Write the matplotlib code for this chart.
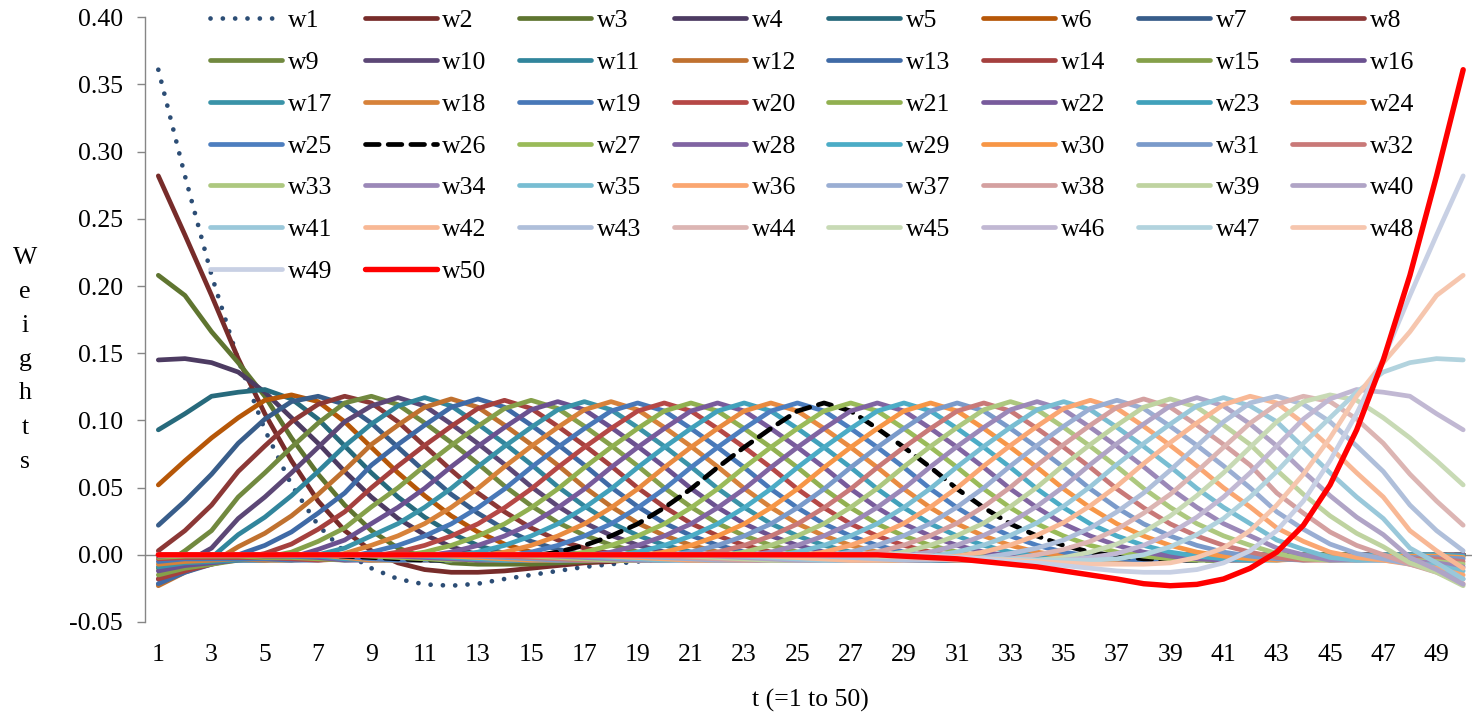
import matplotlib.pyplot as plt
import numpy as np

plt.rcParams['font.family'] = ['Liberation Serif', 'DejaVu Serif']

# значения первых 8 весов по t (дальше нули)
w1 = [0.361, 0.282, 0.208, 0.145, 0.093, 0.052, 0.022, 0.002, -0.010, -0.018, -0.022, -0.023, -0.0215,
      -0.018, -0.015, -0.012, -0.009, -0.007, -0.005, -0.003, -0.002, -0.001]
w2 = [0.282, 0.238, 0.193, 0.146, 0.105, 0.070, 0.040, 0.018, 0.003, -0.006, -0.011, -0.013, -0.013,
      -0.012, -0.010, -0.008, -0.006, -0.005, -0.003, -0.002, -0.001]
w3 = [0.208, 0.193, 0.166, 0.143, 0.118, 0.087, 0.060, 0.037, 0.018, 0.005, -0.002, -0.006, -0.007,
      -0.007, -0.007, -0.006, -0.005, -0.004, -0.003, -0.002, -0.001]
w4 = [0.145, 0.146, 0.143, 0.136, 0.121, 0.102, 0.083, 0.062, 0.043, 0.027, 0.015, 0.006, 0.000,
      -0.003, -0.004, -0.004, -0.004, -0.003, -0.003, -0.002, -0.001]
w5 = [0.093, 0.105, 0.118, 0.121, 0.123, 0.116, 0.101, 0.081, 0.061, 0.043, 0.028, 0.016, 0.007,
      0.001, -0.002, -0.004, -0.004, -0.004, -0.003, -0.002, -0.002, -0.001]
w6 = [0.052, 0.070, 0.087, 0.102, 0.115, 0.119, 0.114, 0.099, 0.080, 0.061, 0.044, 0.029, 0.017,
      0.008, 0.002, -0.002, -0.004, -0.004, -0.004, -0.003, -0.002, -0.001, -0.001]
w7 = [0.022, 0.040, 0.060, 0.083, 0.101, 0.114, 0.118, 0.112, 0.098, 0.080, 0.062, 0.045, 0.031,
      0.019, 0.010, 0.004, 0.000, -0.003, -0.004, -0.004, -0.003, -0.002, -0.001]
w8 = [0.003, 0.018, 0.037, 0.062, 0.081, 0.099, 0.112, 0.118, 0.113, 0.099, 0.081, 0.063, 0.046,
      0.032, 0.020, 0.011, 0.005, 0.001, -0.002, -0.003, -0.004, -0.004, -0.003, -0.002, -0.001]

# профиль внутреннего веса (по w26), отступ от пика 0, 1, 2, ...
kernel = [0.113, 0.107, 0.094, 0.080, 0.065, 0.049, 0.035, 0.023, 0.014, 0.007, 0.002, -0.001,
          -0.003, -0.004, -0.004, -0.004, -0.003, -0.002, -0.001]
# высота пиков w9..w25
peaks = [0.118, 0.117, 0.117, 0.116, 0.116, 0.115, 0.115, 0.114, 0.114, 0.114, 0.113, 0.113,
         0.113, 0.113, 0.113, 0.113, 0.113]

colors = ['#2c4d75', '#772c2a', '#5f7530', '#4d3b62', '#276a7c', '#b65708',
          '#385d8a', '#8c3836', '#71893f', '#5c4776', '#31859c', '#c0712f',
          '#3f6aa6', '#a5403e', '#85a04a', '#6b5190', '#3a93a8', '#d7823a',
          '#4878b8', '#b64846', '#91b050', '#785b9c', '#41a1bb', '#e98b40',
          '#4d7ebf', '#000000', '#9abb59', '#8064a2', '#4bacc6', '#f79646',
          '#7a9aca', '#c97978', '#adc87f', '#9b88b8', '#78bdd2', '#faa671',
          '#9aaed3', '#d4a0a0', '#bfd3a0', '#b0a4c6', '#9ac8da', '#f8b895',
          '#afbfda', '#dcb5b3', '#c8dab5', '#c1b8d3', '#b2d3de', '#f6c6ae',
          '#c8d0e4', '#ff0000']

t = np.arange(1, 51)
yticks = [-0.05, 0.00, 0.05, 0.10, 0.15, 0.20, 0.25, 0.30, 0.35, 0.40]
xticks = list(range(1, 50, 2))


def build_weights():
    edge = [w1, w2, w3, w4, w5, w6, w7, w8]
    half = np.zeros((25, 50))
    for k in range(8):
        half[k, :len(edge[k])] = edge[k]
    for k in range(8, 25):
        for j in range(50):
            d = abs(j - k)
            if j < 8:
                half[k, j] = edge[j][k] if k < len(edge[j]) else 0.0
            elif d < len(kernel):
                half[k, j] = kernel[d] * peaks[k - 8] / kernel[0]
    # вторая половина - зеркальная
    return np.vstack([half, half[::-1, ::-1]])


W = build_weights()

fig = plt.figure(figsize=(14.72, 7.15), dpi=100)
ax = fig.add_axes([145 / 1472, 93 / 715, 1331.5 / 1472, 604.7 / 715])

ax.axhline(0, color='#868686', lw=1, zorder=0.5)

lines = []
for i in range(50):
    name = 'w%d' % (i + 1)
    if i == 0:
        ln, = ax.plot(t, W[i], color=colors[i], lw=3.4, linestyle=(0, (0.01, 2.6)),
                      dash_capstyle='round', label=name)
    elif i == 25:
        ln, = ax.plot(t, W[i], color=colors[i], lw=3.4, linestyle=(0, (2.9, 1.9)),
                      dash_capstyle='round', label=name)
    elif i == 49:
        ln, = ax.plot(t, W[i], color=colors[i], lw=3.9, solid_capstyle='round',
                      solid_joinstyle='round', label=name)
    else:
        ln, = ax.plot(t, W[i], color=colors[i], lw=3.4, solid_capstyle='round',
                      solid_joinstyle='round', label=name)
    lines.append(ln)

ax.set_xlim(0.5, 50.5)
ax.set_ylim(-0.05, 0.40)
ax.set_yticks(yticks)
ax.set_yticklabels(['%.2f' % v for v in yticks], fontsize=18.5)
ax.set_xticks(xticks)
ax.set_xticklabels([str(v) for v in xticks], fontsize=18.5)
ax.tick_params(axis='y', length=5.8, width=1, color='#868686', pad=10)
ax.tick_params(axis='x', length=0, pad=16)
for s in ['top', 'right', 'bottom']:
    ax.spines[s].set_visible(False)
ax.spines['left'].set_color('#868686')
ax.spines['left'].set_linewidth(1)

# легенда по строкам (matplotlib заполняет по столбцам)
order = [r * 8 + c for c in range(8) for r in range(7) if r * 8 + c < 50]
ax.legend([lines[i] for i in order], ['w%d' % (i + 1) for i in order],
          ncol=8, fontsize=18.5, frameon=False, loc='upper left',
          bbox_to_anchor=(210 / 1472, 1 - 9 / 715), bbox_transform=fig.transFigure,
          borderpad=0, borderaxespad=0, handlelength=2.8, handletextpad=0.23,
          columnspacing=1.26, labelspacing=0.735)

fig.text(810 / 1472, 1 - 700 / 715, 't (=1 to 50)', ha='center', va='center', fontsize=18.5)
ylab = 'Weights'
centers = [258, 292, 326, 360, 393, 428, 462]
for ch, yc in zip(ylab, centers):
    fig.text(25 / 1472, 1 - yc / 715, ch, ha='center', va='center', fontsize=18.5)

fig.savefig('out.png', dpi=100)
